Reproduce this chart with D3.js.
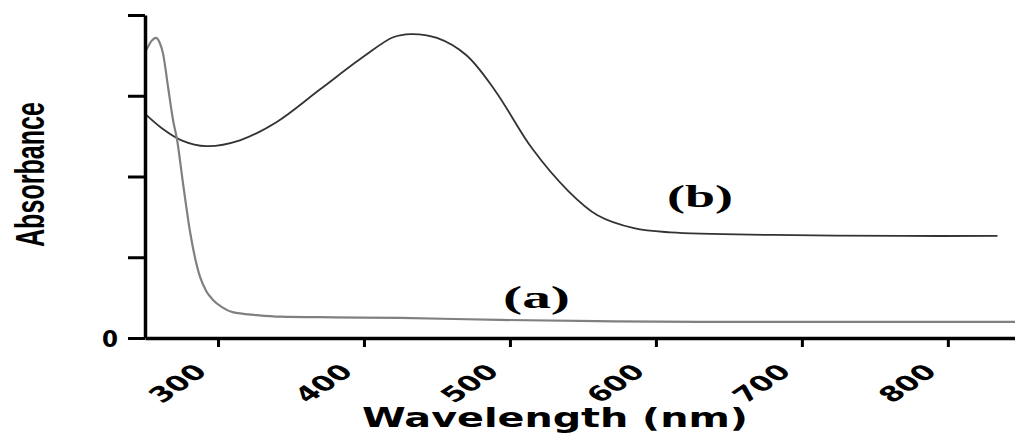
<!DOCTYPE html>
<html>
<head>
<meta charset="utf-8">
<script src="https://cdn.jsdelivr.net/npm/d3@7"></script>
<style>
  body { margin: 0; background: #fff; }
  svg { display: block; }
</style>
</head>
<body>
<svg id="chart" width="1015" height="434"></svg>
<script>
// spectrum (a): nm, absorbance
const waveA = [251, 254.5, 257.5, 260, 262.3, 265.8, 269.2, 272, 276, 281, 287.7, 292, 296.6, 303, 310, 326.7, 342.5, 380, 424.7, 493, 560, 630, 740, 846];
const absA  = [0.892, 0.92, 0.929, 0.915, 0.882, 0.777, 0.675, 0.613, 0.48, 0.325, 0.189, 0.145, 0.118, 0.095, 0.08, 0.071, 0.066, 0.064, 0.062, 0.056, 0.052, 0.05, 0.05, 0.05];

// spectrum (b)
const waveB = [251, 262, 275, 292, 315, 340, 370, 400, 420, 432, 450, 470, 490, 515, 540, 560, 585, 610, 680, 770, 834];
const absB  = [0.69, 0.648, 0.612, 0.594, 0.612, 0.668, 0.77, 0.872, 0.931, 0.941, 0.929, 0.876, 0.765, 0.588, 0.455, 0.38, 0.34, 0.327, 0.319, 0.316, 0.316];

const xTicks = [300, 400, 500, 600, 700, 800];
const yTicks = [0, 0.25, 0.5, 0.75, 1];

const svg = d3.select("#chart");

const x = d3.scaleLinear().domain([250, 846]).range([145, 1015]);
const y = d3.scaleLinear().domain([0, 1]).range([338, 15]);

const lineB = d3.line()
  .x(d => x(d[0]))
  .y(d => y(d[1]))
  .curve(d3.curveCatmullRom.alpha(0.5));

const lineA = d3.line()
  .x(d => x(d[0]))
  .y(d => y(d[1]))
  .curve(d3.curveMonotoneX);

svg.append("path")
  .datum(waveB.map((w, i) => [w, absB[i]]))
  .attr("d", lineB)
  .attr("fill", "none")
  .attr("stroke", "#333")
  .attr("stroke-width", 1.8);

svg.append("path")
  .datum(waveA.map((w, i) => [w, absA[i]]))
  .attr("d", lineA)
  .attr("fill", "none")
  .attr("stroke", "#808080")
  .attr("stroke-width", 2.2);

// y axis
const yAxis = svg.append("g")
  .attr("transform", `translate(${x(250)},0)`)
  .call(d3.axisLeft(y).tickValues(yTicks).tickSize(17).tickSizeOuter(0)
    .tickFormat(d => d === 0 ? "0" : ""));
yAxis.select(".domain").attr("stroke-width", 3.5);
yAxis.selectAll(".tick line").attr("stroke-width", 3);
yAxis.selectAll(".tick text")
  .attr("x", -27)
  .attr("dy", "0.36em")
  .attr("font-family", "DejaVu Sans")
  .attr("font-weight", "bold")
  .attr("font-size", 23)
  .attr("fill", "#000");

// x axis, labels rotated 45deg then stretched sideways like the source image
const xAxis = svg.append("g")
  .attr("transform", `translate(0,${y(0)})`)
  .call(d3.axisBottom(x).tickValues(xTicks).tickSize(9).tickSizeOuter(0));
xAxis.select(".domain").attr("stroke-width", 3.5);
xAxis.selectAll(".tick line").attr("stroke-width", 3);
xAxis.selectAll(".tick text")
  .attr("x", 0).attr("y", 0).attr("dy", 0)
  .attr("text-anchor", "end")
  .attr("transform", "translate(-10,35) scale(1.5,1) rotate(-45)")
  .attr("font-family", "DejaVu Sans")
  .attr("font-weight", "bold")
  .attr("font-size", 21)
  .attr("fill", "#000");

// titles
svg.append("text")
  .attr("x", 362).attr("y", 427)
  .attr("font-family", "DejaVu Sans")
  .attr("font-weight", "bold")
  .attr("font-size", 26)
  .attr("textLength", 386)
  .attr("lengthAdjust", "spacingAndGlyphs")
  .text("Wavelength (nm)");

svg.append("text")
  .attr("transform", "translate(44,247) rotate(-90)")
  .attr("font-family", "Liberation Sans")
  .attr("font-weight", "bold")
  .attr("font-size", 40)
  .attr("textLength", 145)
  .attr("lengthAdjust", "spacingAndGlyphs")
  .text("Absorbance");

// curve labels
svg.append("text")
  .attr("x", 667).attr("y", 207)
  .attr("font-family", "Liberation Serif")
  .attr("font-weight", "bold")
  .attr("font-size", 31)
  .attr("textLength", 66)
  .attr("lengthAdjust", "spacingAndGlyphs")
  .text("(b)");

svg.append("text")
  .attr("x", 503).attr("y", 308)
  .attr("font-family", "Liberation Serif")
  .attr("font-weight", "bold")
  .attr("font-size", 31)
  .attr("textLength", 67)
  .attr("lengthAdjust", "spacingAndGlyphs")
  .text("(a)");
</script>
</body>
</html>
